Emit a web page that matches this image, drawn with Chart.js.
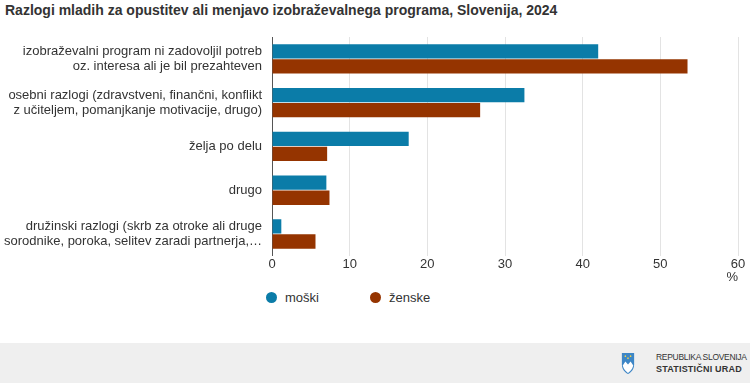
<!DOCTYPE html>
<html>
<head>
<meta charset="utf-8">
<script src="https://cdn.jsdelivr.net/npm/chart.js@4/dist/chart.umd.min.js"></script>
<style>
  body { margin: 0; width: 750px; height: 383px; background: #fff; font-family: "Liberation Sans", Arial, sans-serif; color: #333; position: relative; overflow: hidden; }
  #title { position: absolute; left: 5px; top: 2px; font-size: 14px; font-weight: bold; color: #333; white-space: nowrap; }
  #wrap { position: absolute; left: 0; top: 28px; width: 750px; height: 262px; }
  #legend { position: absolute; top: 290px; left: 266px; font-size: 13px; color: #333; }
  #legend span.item { position: absolute; white-space: nowrap; top: 0; }
  #legend i { display: inline-block; width: 11px; height: 11px; border-radius: 50%; vertical-align: -1px; margin-right: 8px; }
  #footer { position: absolute; left: 0; top: 343px; width: 750px; height: 40px; background: #efefef; }
  #logo { position: absolute; left: 656px; top: 8px; font-size: 8.5px; line-height: 12px; color: #333; white-space: nowrap; letter-spacing: -0.3px; }
  #logo b { font-size: 9px; letter-spacing: 0.2px; }
  #shield { position: absolute; left: 621px; top: 9px; }
</style>
</head>
<body>
<div id="title">Razlogi mladih za opustitev ali menjavo izobraževalnega programa, Slovenija, 2024</div>
<div id="wrap"><canvas id="myChart"></canvas></div>
<div id="legend">
  <span class="item" style="left:0"><i style="background:#0b7ca8"></i>moški</span>
  <span class="item" style="left:104px"><i style="background:#953400"></i>ženske</span>
</div>
<div id="footer">
  <svg id="shield" width="14" height="23" viewBox="0 0 16 22" preserveAspectRatio="none">
    <path d="M1 1 H15 V12 C15 17 11 20 8 21 C5 20 1 17 1 12 Z" fill="#3d86c6"/>
    <path d="M2 13 L5 9 L8 12 L11 9 L14 13 C13 17 10 19 8 20 C6 19 3 17 2 13 Z" fill="#fff"/>
    <circle cx="5" cy="4" r="0.9" fill="#f2d34a"/><circle cx="11" cy="4" r="0.9" fill="#f2d34a"/><circle cx="8" cy="6" r="0.9" fill="#f2d34a"/>
  </svg>
  <div id="logo">REPUBLIKA SLOVENIJA<br><b>STATISTIČNI URAD</b></div>
</div>
<script>
var categories = [
  ["izobraževalni program ni zadovoljil potreb", "oz. interesa ali je bil prezahteven"],
  ["osebni razlogi (zdravstveni, finančni, konflikt", "z učiteljem, pomanjkanje motivacije, drugo)"],
  "želja po delu",
  "drugo",
  ["družinski razlogi (skrb za otroke ali druge", "sorodnike, poroka, selitev zaradi partnerja,…"]
];
var moski = [42.0, 32.5, 17.6, 7.0, 1.2];
var zenske = [53.5, 26.8, 7.1, 7.4, 5.6];
var xTicks = [0, 10, 20, 30, 40, 50, 60];

new Chart("myChart", {
  type: "bar",
  data: {
    labels: categories,
    datasets: [{
      label: "moški",
      data: moski,
      backgroundColor: "#0b7ca8",
      categoryPercentage: 0.69,
      barPercentage: 0.95
    }, {
      label: "ženske",
      data: zenske,
      backgroundColor: "#953400",
      categoryPercentage: 0.69,
      barPercentage: 0.95
    }]
  },
  options: {
    indexAxis: "y",
    responsive: true,
    maintainAspectRatio: false,
    animation: false,
    layout: { padding: { top: 9, right: 12, left: 0, bottom: 0 } },
    plugins: {
      legend: { display: false },
      tooltip: { enabled: false }
    },
    scales: {
      x: {
        min: 0,
        max: 60,
        afterBuildTicks: function (s) { s.ticks = xTicks.map(function (v) { return { value: v }; }); },
        grid: { color: "#e3e3e3", drawTicks: false },
        border: { display: false },
        ticks: { color: "#333", font: { family: "Liberation Sans, Arial", size: 13 }, padding: 1 },
        title: { display: true, text: "%", align: "end", color: "#333", font: { family: "Liberation Sans, Arial", size: 13 }, padding: { top: -4, bottom: 5 } }
      },
      y: {
        grid: { display: false, drawTicks: false },
        border: { display: true, color: "#555", width: 1 },
        afterFit: function (s) { s.width = 272; s.paddingTop = 0; s.paddingBottom = 0; },
        ticks: { color: "#333", font: { family: "Liberation Sans, Arial", size: 13, lineHeight: 1.13 }, padding: 10 }
      }
    }
  }
});
</script>
</body>
</html>
